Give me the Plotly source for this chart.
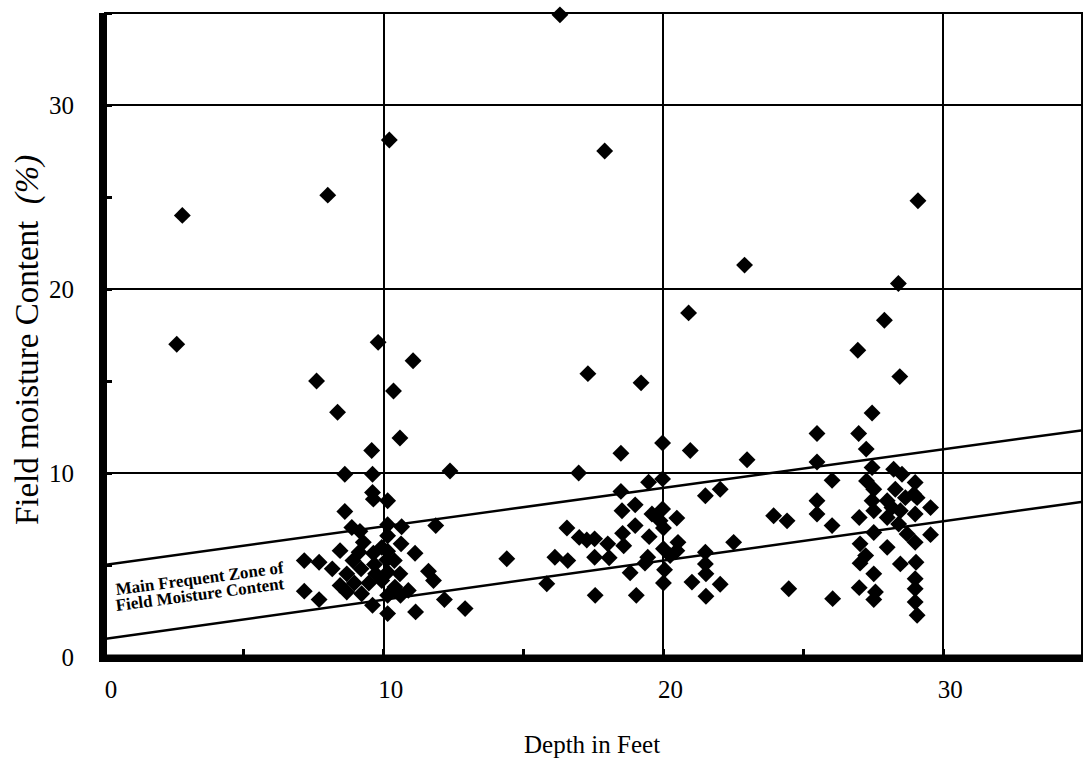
import plotly.graph_objects as go

# ---------------- data ----------------
outlier_x = [2.8, 2.6, 8.0, 10.2, 9.8, 11.05, 7.6, 16.3, 17.9, 29.1, 22.9, 28.4, 20.9, 27.9, 17.3, 19.2]
outlier_y = [24.0, 17.0, 25.1, 28.1, 17.1, 16.1, 15.0, 34.9, 27.5, 24.8, 21.3, 20.3, 18.7, 18.3, 15.4, 14.9]

c1_x = [10.35, 8.35, 10.58, 9.57, 8.61, 9.6, 12.37, 9.6, 9.63, 10.14, 8.61, 8.86, 9.15, 10.14, 10.14,
        10.64, 11.86, 10.62, 11.12, 8.44, 9.12, 9.63, 10.14, 7.16, 7.69, 8.16, 9.19, 9.67, 10.11, 10.38,
        11.6, 11.78, 8.68, 9.71, 10.14, 10.58, 8.44, 8.95, 9.47, 9.93, 10.4, 10.88, 8.68, 9.21, 10.14,
        10.6, 9.6, 10.14, 11.14, 12.17, 12.91, 7.16, 7.69, 9.93, 9.27, 8.9]
c1_y = [14.46, 13.3, 11.9, 11.22, 9.93, 9.93, 10.11, 8.94, 8.58, 8.49, 7.91, 7.04, 6.83, 7.19, 6.59,
        7.08, 7.14, 6.15, 5.64, 5.78, 5.69, 5.64, 5.75, 5.24, 5.15, 4.79, 4.79, 5.03, 5.28, 5.24,
        4.66, 4.16, 4.52, 4.52, 4.61, 4.52, 3.89, 4.02, 4.02, 4.16, 3.8, 3.62, 3.53, 3.44, 3.35,
        3.35, 2.81, 2.36, 2.45, 3.12, 2.63, 3.58, 3.12, 5.96, 6.23, 5.24]

c2_x = [18.48, 19.97, 20.96, 22.99, 16.97, 19.47, 19.97, 18.48, 21.5, 22.03, 18.52, 18.99, 19.59, 19.97,
        20.48, 18.99, 19.88, 20.0, 16.55, 23.94, 24.42, 16.99, 17.26, 17.54, 18.54, 19.49, 18.01, 18.58,
        20.52, 20.0, 22.51, 21.5, 16.12, 16.58, 17.54, 18.06, 19.44, 20.24, 20.48, 14.4, 19.34, 21.5,
        18.81, 20.04, 21.52, 20.0, 21.02, 22.03, 24.48, 15.83, 17.56, 19.03, 21.52]
c2_y = [11.07, 11.63, 11.22, 10.72, 10.0, 9.5, 9.68, 9.0, 8.76, 9.12, 7.95, 8.27, 7.77, 8.04,
        7.55, 7.14, 7.4, 7.01, 7.01, 7.68, 7.4, 6.5, 6.36, 6.42, 6.72, 6.54, 6.15, 6.05,
        6.23, 5.88, 6.23, 5.69, 5.42, 5.24, 5.42, 5.39, 5.42, 5.51, 5.78, 5.34, 5.1, 5.06,
        4.58, 4.74, 4.52, 4.02, 4.07, 3.95, 3.71, 3.98, 3.35, 3.35, 3.3]

c3_x = [26.95, 28.45, 27.46, 25.49, 26.98, 27.25, 25.49, 27.46, 28.23, 28.53, 26.03, 27.26, 27.52, 28.29,
        29.0, 28.95, 25.49, 27.46, 28.0, 29.55, 29.07, 25.49, 27.52, 28.0, 28.47, 29.0, 26.03, 27.0,
        28.41, 28.71, 29.55, 27.52, 29.0, 27.03, 28.0, 27.23, 28.47, 27.03, 29.03, 27.52, 29.0, 27.0,
        27.58, 29.0, 26.05, 27.52, 29.0, 29.07, 28.65, 28.17]
c3_y = [16.67, 15.24, 13.26, 12.15, 12.15, 11.3, 10.6, 10.3, 10.2, 9.93, 9.6, 9.57, 9.12, 9.12,
        9.48, 8.85, 8.49, 8.49, 8.49, 8.12, 8.66, 7.77, 7.95, 7.58, 7.95, 7.77, 7.14, 7.58,
        7.23, 6.69, 6.65, 6.77, 6.23, 6.15, 5.96, 5.51, 5.06, 5.1, 5.15, 4.52, 4.25, 3.77,
        3.53, 3.71, 3.17, 3.12, 2.99, 2.27, 8.66, 8.12]

zone_x = [0, 35]
zone_upper_y = [5.0, 12.33]
zone_lower_y = [0.98, 8.44]

tick_vals = [0, 10, 20, 30]
tick_text = ["0", "10", "20", "30"]

# ---------------- figure ----------------
FONT = "Liberation Serif, Times New Roman, serif"
pts_x = outlier_x + c1_x + c2_x + c3_x
pts_y = outlier_y + c1_y + c2_y + c3_y

fig = go.Figure()
for zy in (zone_upper_y, zone_lower_y):
    fig.add_trace(go.Scatter(x=zone_x, y=zy, mode="lines",
                             line=dict(color="black", width=2.5),
                             hoverinfo="skip", showlegend=False))

fig.add_trace(go.Scatter(x=pts_x, y=pts_y, mode="markers",
                         marker=dict(symbol="diamond", size=13, color="black",
                                     line=dict(width=0)),
                         showlegend=False, cliponaxis=False))

axis_common = dict(
    tickvals=tick_vals, ticktext=tick_text,
    showgrid=True, gridcolor="black", gridwidth=2,
    showline=True, linecolor="black", linewidth=5,
    zeroline=False, ticks="",
    tickfont=dict(family=FONT, size=25, color="black"),
    minor=dict(dtick=5, ticks="inside", ticklen=8, tickwidth=3,
               tickcolor="black", showgrid=False),
)

fig.update_xaxes(range=[0, 35], ticklabelstandoff=6, ticklabelshift=7, **axis_common)
fig.update_yaxes(range=[0, 35], ticklabelstandoff=20, **axis_common)

# frame: thick left/bottom, thin top/right
fig.add_shape(type="line", xref="paper", yref="paper", x0=0, x1=0, y0=-0.004, y1=1,
              line=dict(color="black", width=6), layer="above")
fig.add_shape(type="line", xref="paper", yref="paper", x0=-0.003, x1=1, y0=0, y1=0,
              line=dict(color="black", width=5), layer="above")
fig.add_shape(type="line", xref="paper", yref="paper", x0=0, x1=1, y0=1, y1=1,
              line=dict(color="black", width=2))
fig.add_shape(type="line", xref="paper", yref="paper", x0=0.999, x1=0.999, y0=0, y1=1,
              line=dict(color="black", width=2))

annots = [
    dict(text="Depth in Feet", xref="paper", yref="paper", x=0.4985, y=-0.1366,
         xanchor="center", yanchor="middle", showarrow=False,
         font=dict(family=FONT, size=25, color="black")),
    dict(text="Field moisture Content&nbsp; <i>(%)</i>", xref="paper", yref="paper",
         x=-0.0787, y=0.492, xanchor="center", yanchor="middle", textangle=-90,
         showarrow=False, font=dict(family=FONT, size=33, color="black")),
    dict(text="<b>Main Frequent Zone of</b>", x=3.43, y=4.24, xref="x", yref="y",
         xanchor="center", yanchor="middle", textangle=-7.5, showarrow=False,
         font=dict(family=FONT, size=17, color="black")),
    dict(text="<b>Field Moisture Content</b>", x=3.43, y=3.42, xref="x", yref="y",
         xanchor="center", yanchor="middle", textangle=-7.5, showarrow=False,
         font=dict(family=FONT, size=17, color="black")),
]

fig.update_layout(
    width=1083, height=766, autosize=False,
    margin=dict(l=104, r=0, t=13, b=109),
    paper_bgcolor="white", plot_bgcolor="white",
    annotations=annots, showlegend=False,
)

fig.write_html("out.html")
